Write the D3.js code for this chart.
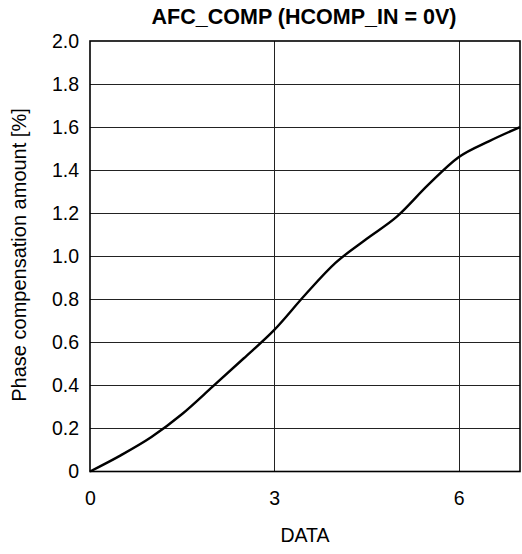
<!DOCTYPE html>
<html>
<head>
<meta charset="utf-8">
<script src="https://cdn.jsdelivr.net/npm/d3@7"></script>
<style>
  body { margin: 0; background: #fff; }
  svg text { font-family: "Liberation Sans", Arial, sans-serif; fill: #000; }
</style>
</head>
<body>
<div id="chart"></div>
<script>
// curve
const dataX = [0, 0.5, 1, 1.5, 2, 2.5, 3, 3.5, 4, 4.5, 5, 5.5, 6, 6.5, 7];
const dataY = [0, 0.075, 0.16, 0.267, 0.395, 0.525, 0.658, 0.82, 0.97, 1.08, 1.185, 1.33, 1.46, 1.535, 1.6];
const xTicks = [0, 3, 6];
const yTicks = [0, 0.2, 0.4, 0.6, 0.8, 1.0, 1.2, 1.4, 1.6, 1.8, 2.0];

const width = 522, height = 554;
const margin = { top: 41, right: 2, bottom: 82.5, left: 90 };

const points = dataX.map((x, i) => [x, dataY[i]]);

const svg = d3.select("#chart")
    .append("svg")
    .attr("width", width)
    .attr("height", height);

const x = d3.scaleLinear()
    .domain([0, 7])
    .range([margin.left, width - margin.right]);

const y = d3.scaleLinear()
    .domain([0, 2])
    .range([height - margin.bottom, margin.top]);

// Grid
svg.append("g")
    .selectAll("line")
    .data(yTicks.slice(1, -1))
    .enter()
    .append("line")
    .attr("x1", x(0)).attr("x2", x(7))
    .attr("y1", d => Math.round(y(d)) + 0.5)
    .attr("y2", d => Math.round(y(d)) + 0.5)
    .attr("stroke", "#222")
    .attr("stroke-width", 1);

svg.append("g")
    .selectAll("line")
    .data(xTicks.slice(1))
    .enter()
    .append("line")
    .attr("y1", y(0)).attr("y2", y(2))
    .attr("x1", d => Math.round(x(d)) + 0.5)
    .attr("x2", d => Math.round(x(d)) + 0.5)
    .attr("stroke", "#222")
    .attr("stroke-width", 1);

// Frame
svg.append("rect")
    .attr("x", x(0)).attr("y", y(2))
    .attr("width", x(7) - x(0))
    .attr("height", y(0) - y(2))
    .attr("fill", "none")
    .attr("stroke", "#000")
    .attr("stroke-width", 1.6);

// Y Axis labels
const yAxis = svg.append("g")
    .attr("transform", `translate(${x(0)}, 0)`)
    .call(d3.axisLeft(y).tickValues(yTicks).tickSize(0).tickPadding(11)
        .tickFormat(d => d === 0 ? "0" : d3.format(".1f")(d)));
yAxis.select(".domain").remove();
yAxis.selectAll("text").attr("font-size", "19.5px").attr("fill", "#000")
    .style("font-family", "'Liberation Sans', Arial, sans-serif");

// X Axis labels
const xAxis = svg.append("g")
    .attr("transform", `translate(0, ${y(0)})`)
    .call(d3.axisBottom(x).tickValues(xTicks).tickSize(0).tickPadding(20)
        .tickFormat(d3.format("d")));
xAxis.select(".domain").remove();
xAxis.selectAll("text").attr("font-size", "19.5px").attr("fill", "#000")
    .style("font-family", "'Liberation Sans', Arial, sans-serif");

// Curve
const line = d3.line()
    .x(d => x(d[0]))
    .y(d => y(d[1]))
    .curve(d3.curveMonotoneX);

svg.append("path")
    .datum(points)
    .attr("fill", "none")
    .attr("stroke", "#000")
    .attr("stroke-width", 2.4)
    .attr("stroke-linejoin", "round")
    .attr("d", line);

// Title
svg.append("text")
    .attr("x", 304)
    .attr("y", 23.5)
    .attr("text-anchor", "middle")
    .attr("font-size", "21.5px")
    .attr("font-weight", "bold")
    .text("AFC_COMP (HCOMP_IN = 0V)");

// X Axis Title
svg.append("text")
    .attr("x", (x(0) + x(7)) / 2)
    .attr("y", 541.5)
    .attr("text-anchor", "middle")
    .attr("font-size", "19.5px")
    .text("DATA");

// Y Axis Title
svg.append("text")
    .attr("transform", "rotate(-90)")
    .attr("x", -255)
    .attr("y", 26)
    .attr("text-anchor", "middle")
    .attr("font-size", "20px")
    .text("Phase compensation amount [%]");
</script>
</body>
</html>
